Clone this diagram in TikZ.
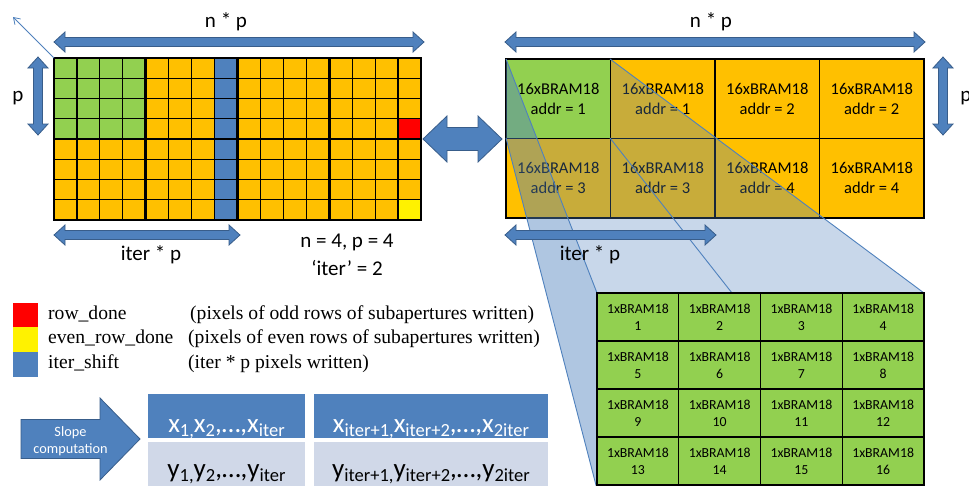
\documentclass[tikz,border=0pt]{standalone}
\usepackage{fontspec}
\setmainfont{Carlito}
\newfontfamily\timesfont{Liberation Serif}
\usetikzlibrary{arrows.meta}
\definecolor{cOrange}{RGB}{255,192,0}
\definecolor{cGreen}{RGB}{146,208,80}
\definecolor{cBlue}{RGB}{79,129,189}
\definecolor{cBlueDark}{RGB}{56,93,138}
\definecolor{cLight}{RGB}{208,216,232}
\newcommand{\subx}[1]{\raisebox{-4pt}{\fontsize{18.5}{18.5}\selectfont #1}}
% horizontal double block arrow: x1,x2,yc,shaft half,head half,head length
\newcommand{\HDArrow}[6]{%
 \filldraw[blockarrow] (#1,#3) -- (#1+#6,#3-#5) -- (#1+#6,#3-#4) -- (#2-#6,#3-#4) -- (#2-#6,#3-#5) -- (#2,#3) -- (#2-#6,#3+#5) -- (#2-#6,#3+#4) -- (#1+#6,#3+#4) -- (#1+#6,#3+#5) -- cycle;}
% vertical double block arrow: y1,y2,xc,shaft half,head half,head length
\newcommand{\VDArrow}[6]{%
 \filldraw[blockarrow] (#3,#1) -- (#3-#5,#1+#6) -- (#3-#4,#1+#6) -- (#3-#4,#2-#6) -- (#3-#5,#2-#6) -- (#3,#2) -- (#3+#5,#2-#6) -- (#3+#4,#2-#6) -- (#3+#4,#1+#6) -- (#3+#5,#1+#6) -- cycle;}
\tikzset{
 blockarrow/.style={fill=cBlue, draw=cBlueDark, line width=0.8pt},
 gthin/.style={draw=black, line width=1.2pt},
 gthick/.style={draw=black, line width=2.8pt},
 rcell/.style={draw=black, line width=1.2pt, minimum width=104.5pt, minimum height=79.5pt, inner sep=0pt, outer sep=0pt, align=center, font=\fontsize{16.5}{20}\selectfont},
 bcell/.style={draw=black, line width=1.2pt, fill=cGreen, minimum width=81.75pt, minimum height=48pt, inner sep=0pt, outer sep=0pt, align=center, font=\fontsize{13.8}{17}\selectfont},
 lbl/.style={inner sep=0pt, font=\fontsize{21}{25}\selectfont},
 legtxt/.style={inner sep=0pt, anchor=base west, font=\timesfont\fontsize{19.6}{23}\selectfont},
 edge/.style={draw=cBlue, line width=0.9pt},
 boxtxt/.style={inner sep=0pt, anchor=base, font=\fontsize{27}{32}\selectfont}
}
\begin{document}
\begin{tikzpicture}[x=1pt,y=-1pt]
\useasboundingbox (0,0) rectangle (969,485);
\clip (0,0) rectangle (969,485);
\fill[white] (0,0) rectangle (969,485);

% ---------- left pixel grid ----------
\fill[cOrange] (54,58) rectangle (421,220);
\fill[cGreen] (54,58) rectangle (145.75,139);
\fill[cBlue] (214.5625,58) rectangle (237.5,220);
\fill[red] (398.0625,118.75) rectangle (421,139);
\fill[yellow] (398.0625,199.75) rectangle (421,220);
\foreach \k in {1,...,15} \draw[gthin] ({54+\k*22.9375},58) -- ({54+\k*22.9375},220);
\foreach \k in {1,...,7} \draw[gthin] (54,{58+\k*20.25}) -- (421,{58+\k*20.25});
\foreach \k in {4,8,12} \draw[gthick] ({54+\k*22.9375},58) -- ({54+\k*22.9375},220);
\draw[gthick] (54,139) -- (421,139);
\draw[gthick] (54,58) rectangle (421,220);

% ---------- right BRAM grid ----------
\node[rcell, fill=cOrange] (r12) at (662.75,98.75) {16xBRAM18\\addr = 1};
\node[rcell, fill=cOrange] (r13) at (767.25,98.75) {16xBRAM18\\addr = 2};
\node[rcell, fill=cOrange] (r14) at (871.75,98.75) {16xBRAM18\\addr = 2};
\node[rcell, fill=cOrange] (r21) at (558.25,178.25) {16xBRAM18\\addr = 3};
\node[rcell, fill=cOrange] (r22) at (662.75,178.25) {16xBRAM18\\addr = 3};
\node[rcell, fill=cOrange] (r23) at (767.25,178.25) {16xBRAM18\\addr = 4};
\node[rcell, fill=cOrange] (r24) at (871.75,178.25) {16xBRAM18\\addr = 4};

% projection coordinates
\coordinate (bkTL) at (506,59);
\coordinate (bkTR) at (610,59);
\coordinate (bkBL) at (506,138);
\coordinate (bkBR) at (610,138);
\coordinate (frTL) at (597,293);
\coordinate (frTR) at (924,293);
\coordinate (frBL) at (597,489);
\coordinate (frMid) at (732,293);

% top face (translucent)
\fill[cBlue, opacity=0.31] (bkTL) -- (bkTR) -- (frTR) -- (frTL) -- cycle;
% green source cell
\node[rcell, fill=cGreen] (r11) at (558.25,98.75) {16xBRAM18\\addr = 1};
% left face (translucent, darker)
\fill[cBlue, opacity=0.45] (bkTL) -- (frTL) -- (frBL) -- (bkBL) -- cycle;
\draw[edge] (bkTL) -- (frTL);
\draw[edge] (bkBL) -- (frBL);
\draw[edge] (bkTR) -- (frTR);
\draw[edge] (bkBR) -- (frMid);

% ---------- bottom-right 1xBRAM18 grid ----------
\foreach \r in {0,...,3}{
 \foreach \c in {0,...,3}{
  \pgfmathtruncatemacro{\n}{\r*4+\c+1}
  \node[bcell] (b\n) at ({597+40.875+\c*81.75},{293+24+\r*48}) {1xBRAM18\\\n};
 }
}

% ---------- arrows ----------
\HDArrow{54}{424}{42}{4.5}{10}{11}
\HDArrow{505}{925}{42}{4.5}{10}{11}
\VDArrow{57}{135}{38}{4.5}{10}{11}
\VDArrow{57}{135}{943}{4.5}{10}{11}
\HDArrow{54}{240}{235}{4.5}{10}{11}
\HDArrow{505}{716}{235}{4.5}{10}{11}
\HDArrow{423}{502}{139}{11.5}{23}{24}
\coordinate (tipNW) at (13,17);
\coordinate (gridNW) at (54,58);
\draw[cBlue, line width=0.8pt, -{Straight Barb[length=6pt,width=8pt]}] (gridNW) -- (tipNW);

% ---------- labels ----------
\node[lbl, anchor=base] (np1) at (226,27) {n * p};
\node[lbl, anchor=base] (np2) at (711,27) {n * p};
\node[lbl, anchor=base] (p1) at (18,101) {p};
\node[lbl, anchor=base] (p2) at (966,101) {p};
\node[lbl, anchor=base] (ip1) at (151,260) {iter * p};
\node[lbl, anchor=base] (ip2) at (590,260) {iter * p};
\node[lbl, anchor=base] (np) at (347,247) {n = 4, p = 4};
\node[lbl, anchor=base] (it) at (347,275) {‘iter’ = 2};

% ---------- legend ----------
\fill[red] (13,303) rectangle (38,327);
\fill[yellow] (13,327) rectangle (38,352);
\fill[cBlue] (13,352) rectangle (38,377);
\node[legtxt] (l1) at (48,319) {row\_done};
\node[legtxt] (l1d) at (190,319) {(pixels of odd rows of subapertures written)};
\node[legtxt] (l2) at (48,343) {even\_row\_done};
\node[legtxt] (l2d) at (188,343) {(pixels of even rows of subapertures written)};
\node[legtxt] (l3) at (48,368) {iter\_shift};
\node[legtxt] (l3d) at (188,368) {(iter * p pixels written)};

% ---------- slope computation ----------
\filldraw[blockarrow] (21,419.5) -- (100,419.5) -- (100,398) -- (140,439) -- (100,480) -- (100,458.5) -- (21,458.5) -- cycle;
\node[inner sep=0pt, text=white, align=center, font=\fontsize{14.3}{17}\selectfont] (slope) at (70.5,441) {Slope\\computation};
\fill[cBlue] (148,394) rectangle (305,438);
\fill[cBlue] (314,394) rectangle (548,438);
\fill[cLight] (148,442) rectangle (305,490);
\fill[cLight] (314,442) rectangle (548,490);
\node[boxtxt, text=white] (x1) at (226.5,432) {x\subx{1,}x\subx{2},…,x\subx{iter}};
\node[boxtxt, text=white] (x2) at (431,432) {x\subx{iter+1,}x\subx{iter+2},…,x\subx{2iter}};
\node[boxtxt, text=black] (y1) at (226.5,477) {y\subx{1,}y\subx{2},…,y\subx{iter}};
\node[boxtxt, text=black] (y2) at (431,477) {y\subx{iter+1,}y\subx{iter+2},…,y\subx{2iter}};
\end{tikzpicture}
\end{document}
